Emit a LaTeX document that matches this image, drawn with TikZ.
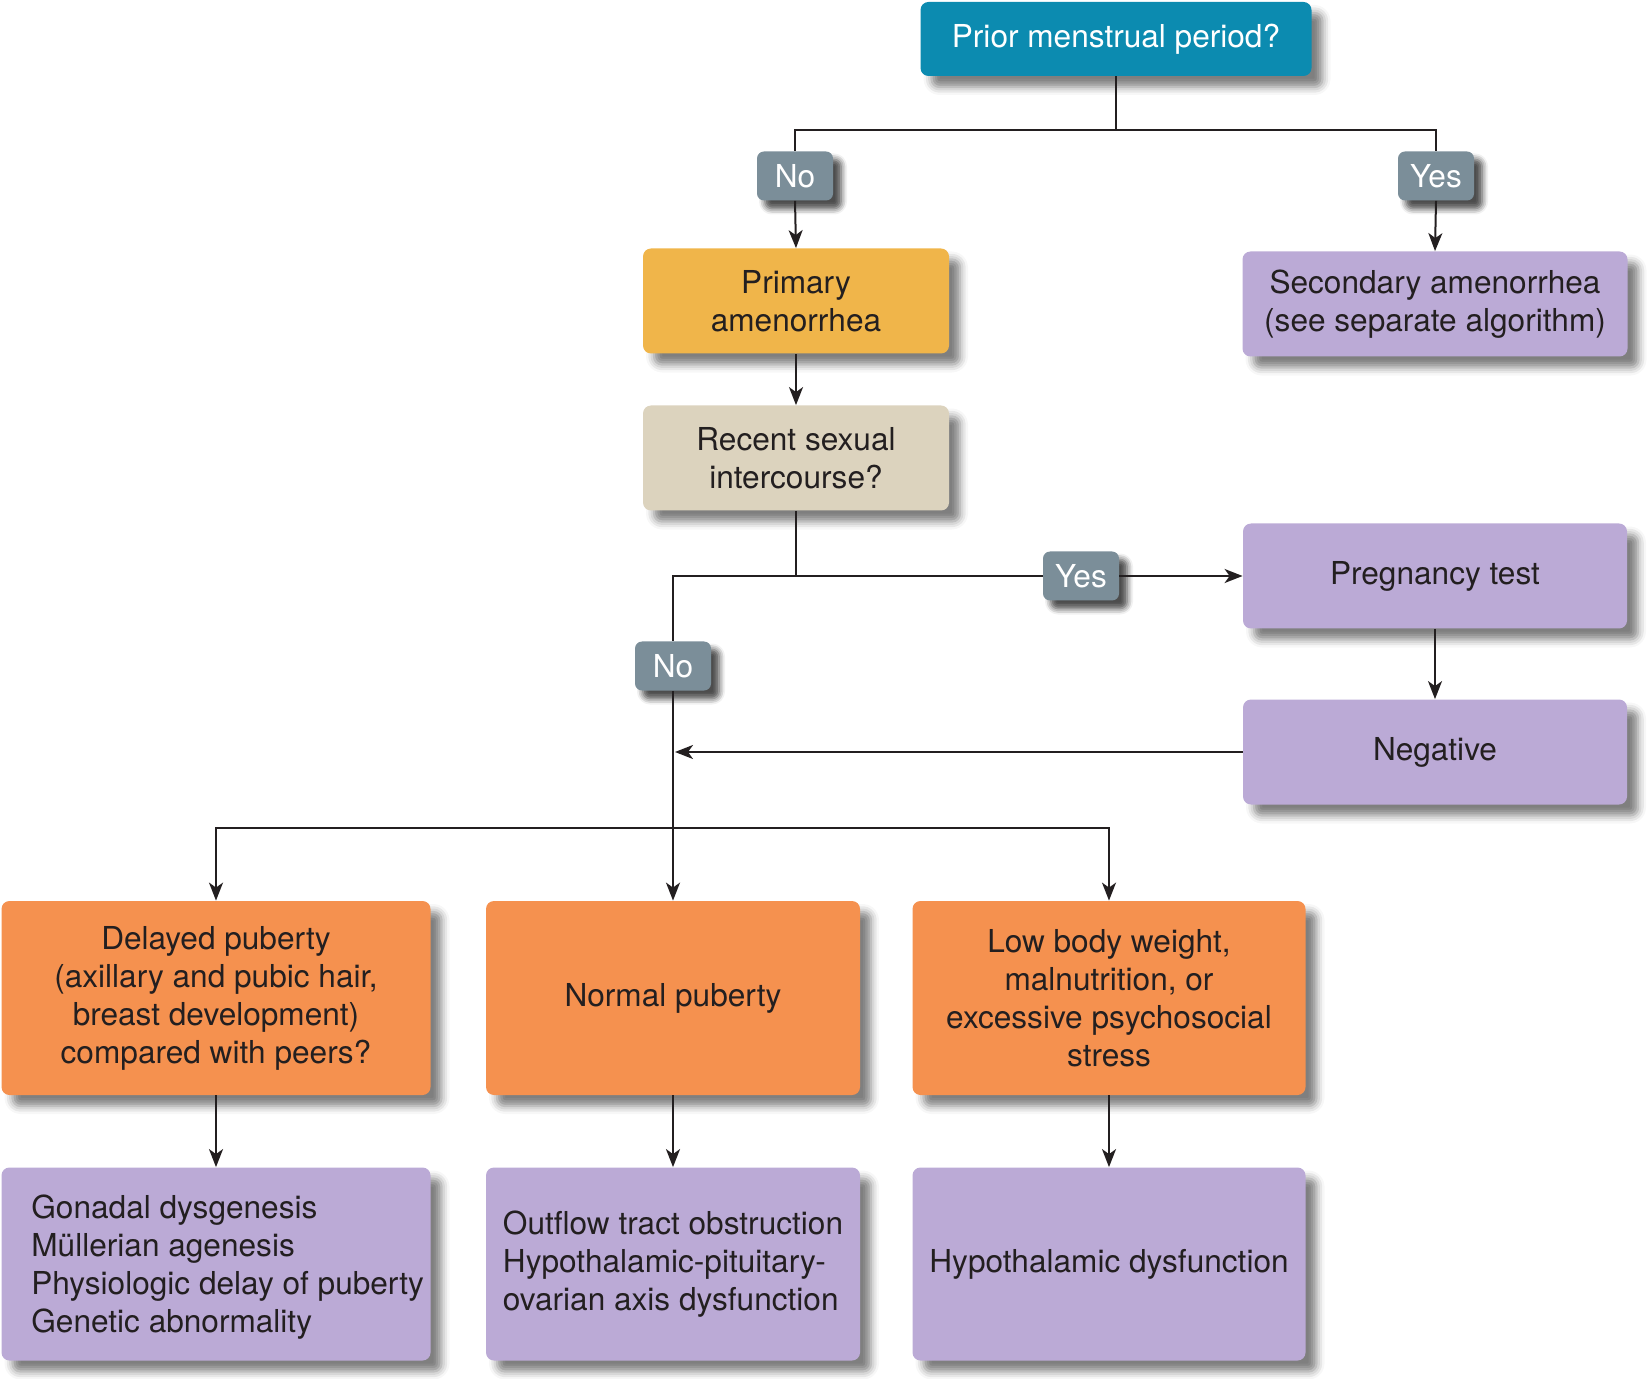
\documentclass[tikz,border=0pt]{standalone}
\usepackage{fontspec}
\setmainfont{TeX Gyre Heros}
\usetikzlibrary{arrows.meta,shadows.blur}
\definecolor{topblue}{HTML}{0C8BB0}
\definecolor{lblgray}{HTML}{7B8E99}
\definecolor{primc}{HTML}{F0B54A}
\definecolor{beige}{HTML}{DCD3BE}
\definecolor{purp}{HTML}{BBAAD6}
\definecolor{orng}{HTML}{F5914F}
\definecolor{txt}{HTML}{231F20}
\tikzset{
  x=0.5pt, y=-0.5pt,
  basebox/.style={rounded corners=4pt, inner sep=0pt, align=center,
    font=\fontsize{15.8}{19}\selectfont, text=txt,
    blur shadow={shadow xshift=5.5pt, shadow yshift=-5.5pt, shadow blur radius=4pt, shadow opacity=50}},
  topbox/.style={basebox, fill=topblue, text=white, minimum width=195.5pt, minimum height=37pt},
  lbl/.style={basebox, fill=lblgray, text=white, minimum width=38pt, minimum height=24.5pt, rounded corners=3.5pt,
    blur shadow={shadow xshift=4pt, shadow yshift=-4pt, shadow blur radius=3pt, shadow opacity=45}},
  midbox/.style={basebox, minimum width=153pt, minimum height=52.5pt},
  rbox/.style={basebox, fill=purp, minimum width=192pt, minimum height=52.5pt},
  lowbox/.style={basebox, minimum height=97pt},
  conn/.style={draw=txt, line width=1pt},
  arr/.style={conn, -{Stealth[length=9pt,width=7pt,inset=2.5pt]}}
}
\begin{document}
\begin{tikzpicture}
\useasboundingbox (0,0) rectangle (1649,1379);
% nodes
\node[topbox] (top) at (1116,39) {Prior menstrual period?};
\node[lbl] (no1) at (795,176) {No};
\node[lbl] (yes1) at (1436,176) {Yes};
\node[midbox, fill=primc] (prim) at (796,301) {Primary\\amenorrhea};
\node[midbox, fill=beige] (recent) at (796,458) {Recent sexual\\intercourse?};
\node[rbox, minimum width=192.5pt] (sec) at (1435,304) {Secondary amenorrhea\\(see separate algorithm)};
\node[lbl] (yes2) at (1081,576) {Yes};
\node[rbox] (preg) at (1435,576) {Pregnancy test};
\node[rbox] (neg) at (1435,752) {Negative};
\node[lbl] (no2) at (673,666) {No};
\node[lowbox, fill=orng, minimum width=214.5pt] (delayed) at (216,998) {Delayed puberty\\(axillary and pubic hair,\\breast development)\\compared with peers?};
\node[lowbox, fill=orng, minimum width=187pt] (normal) at (673,998) {Normal puberty};
\node[lowbox, fill=orng, minimum width=196.5pt] (low) at (1109,998) {Low body weight,\\malnutrition, or\\excessive psychosocial\\stress};
\node[lowbox, fill=purp, minimum width=214.5pt, minimum height=96.5pt] (gonad) at (216,1264) {};
\node[anchor=west, align=left, inner sep=0pt, text=txt, font=\fontsize{15.8}{19}\selectfont] (gonadtxt) at (31,1267) {Gonadal dysgenesis\\M\"ullerian agenesis\\Physiologic delay of puberty\\Genetic abnormality};
\node[lowbox, fill=purp, minimum width=187pt, minimum height=96.5pt, align=left] (outflow) at (673,1264) {Outflow tract obstruction\\Hypothalamic-pituitary-\\ovarian axis dysfunction};
\node[lowbox, fill=purp, minimum width=196.5pt, minimum height=96.5pt] (hypo) at (1109,1264) {Hypothalamic dysfunction};
% coordinates
\coordinate (tj) at (1116,130);
\coordinate (rj) at (recent.south |- yes2.west);
\coordinate (nj) at (no2.north |- rj);
\coordinate (negend) at (no2.south |- neg.west);
\coordinate (bj) at (673,828);
% connectors
\draw[conn] (top.south) -- (tj);
\draw[conn] (tj) -| (no1.north);
\draw[conn] (tj) -| (yes1.north);
\draw[arr] (no1.south) -- (prim.north);
\draw[arr] (yes1.south) -- (sec.north);
\draw[arr] (prim.south) -- (recent.north);
\draw[conn] (recent.south) -- (rj);
\draw[conn] (rj) -- (yes2.west);
\draw[arr] (yes2.east) -- (preg.west);
\draw[conn] (rj) -- (nj) -- (no2.north);
\draw[arr] (preg.south) -- (neg.north);
\draw[arr] (neg.west) -- ([xshift=1pt]negend);
\draw[conn] (no2.south) -- (bj);
\draw[arr] (bj) -- (normal.north);
\draw[arr] (bj) -| (delayed.north);
\draw[arr] (bj) -| (low.north);
\draw[arr] (delayed.south) -- (gonad.north);
\draw[arr] (normal.south) -- (outflow.north);
\draw[arr] (low.south) -- (hypo.north);
\end{tikzpicture}
\end{document}
